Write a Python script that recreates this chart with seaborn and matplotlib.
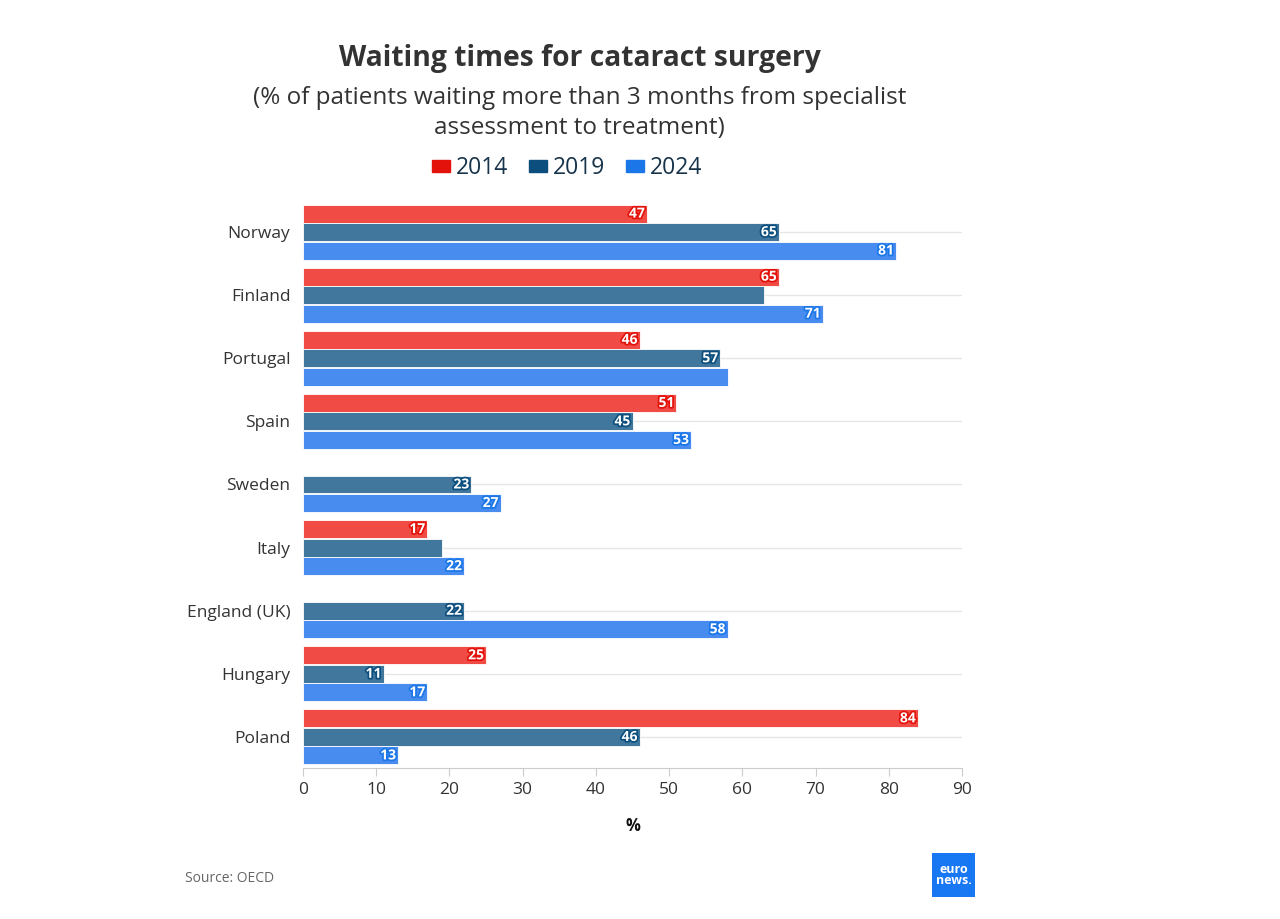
import numpy as np
import pandas as pd
import seaborn as sns
import matplotlib.pyplot as plt
import matplotlib.patches as mpatches
import matplotlib.patheffects as pe

# dati
countries = ["Norway", "Finland", "Portugal", "Spain", "Sweden", "Italy",
             "England (UK)", "Hungary", "Poland"]
years = ["2014", "2019", "2024"]
v2014 = [47, 65, 46, 51, np.nan, 17, np.nan, 25, 84]
v2019 = [65, 63, 57, 45, 23, 19, 22, 11, 46]
v2024 = [81, 71, 58, 53, 27, 22, 58, 17, 13]
# etichette mostrate (None = nessuna etichetta nel grafico originale)
lab2014 = [47, 65, 46, 51, None, 17, None, 25, 84]
lab2019 = [65, None, 57, 45, 23, None, 22, 11, 46]
lab2024 = [81, 71, None, 53, 27, 22, 58, 17, 13]
x_ticks = [0, 10, 20, 30, 40, 50, 60, 70, 80, 90]

bar_colors = ["#f04b45", "#41769d", "#478cee"]
dark_colors = ["#e3120b", "#0c4f7e", "#1b77e8"]

df = pd.DataFrame({
    "country": countries * 3,
    "year": sum([[y] * len(countries) for y in years], []),
    "value": v2014 + v2019 + v2024,
})

sns.set_style("white")
plt.rcParams['font.family'] = ['Open Sans', 'DejaVu Sans']

fig = plt.figure(figsize=(12.8, 9.19), dpi=100)
ax = fig.add_axes([0.2367, 0.1638, 0.5149, 0.6180])

sns.barplot(data=df, y="country", x="value", hue="year", order=countries,
            hue_order=years, palette=bar_colors, saturation=1, orient="h",
            width=0.88, gap=0.03, edgecolor="white", linewidth=0.6,
            legend=False, ax=ax)

ax.set_xlim(0, 90)
ax.set_ylim(len(countries) - 0.5, -0.5)
ax.set_xticks(x_ticks)
ax.set_xticklabels([str(t) for t in x_ticks])
ax.tick_params(axis="x", colors="#cccccc", labelcolor="#333333", labelsize=12.5,
               length=6, width=0.8, direction="out", bottom=True)
ax.tick_params(axis="y", labelcolor="#333333", labelsize=12.5, length=0, pad=9)

# griglia orizzontale leggera
for i in range(len(countries)):
    ax.axhline(i, color="#e6e6e6", lw=1, zorder=0)
for s in ["top", "right", "left"]:
    ax.spines[s].set_visible(False)
ax.spines["bottom"].set_color("#cccccc")
ax.set_ylabel("")
ax.set_xlabel("%", fontsize=12, fontweight="bold", color="#111111", labelpad=14)

# etichette sulle barre (le barre NaN non esistono, quindi uso la posizione)
for cont, labs, dc in zip(ax.containers, [lab2014, lab2019, lab2024], dark_colors):
    for rect in cont:
        yc = rect.get_y() + rect.get_height() / 2
        lab = labs[int(round(yc))]
        if lab is None or np.isnan(rect.get_width()):
            continue
        ax.text(rect.get_width() - 0.3, yc, str(lab), ha="right", va="center",
                fontsize=10, fontweight="bold", color="white",
                path_effects=[pe.withStroke(linewidth=2.5, foreground=dc)])

# titolo e sottotitolo
fig.text(0.453, 0.936, "Waiting times for cataract surgery", ha="center", va="center",
         fontsize=20.3, fontweight="bold", color="#333333")
fig.text(0.453, 0.877, "(% of patients waiting more than 3 months from specialist\nassessment to treatment)",
         ha="center", va="center", fontsize=17.5, color="#333333", linespacing=1.3)

# legenda
handles = [mpatches.Patch(color=c, label=y) for c, y in zip(dark_colors, years)]
leg = fig.legend(handles=handles, loc="center", bbox_to_anchor=(0.443, 0.817), ncol=3,
                 frameon=False, fontsize=16.5, handlelength=0.8, handleheight=0.45,
                 handletextpad=0.25, columnspacing=0.9)
for t in leg.get_texts():
    t.set_color("#17334a")

# fonte e logo
fig.text(0.1445, 0.0446, "Source: OECD", ha="left", va="center", fontsize=10, color="#666666")
logo = fig.add_axes([0.728, 0.024, 0.034, 0.048])
logo.set_facecolor("#1877f2")
logo.set_xticks([])
logo.set_yticks([])
for s in logo.spines.values():
    s.set_visible(False)
logo.text(0.5, 0.5, "euro\nnews.", ha="center", va="center", color="white",
          fontsize=9, fontweight="bold", linespacing=0.8, transform=logo.transAxes)

fig.savefig("out.png", dpi=100, facecolor="white")
